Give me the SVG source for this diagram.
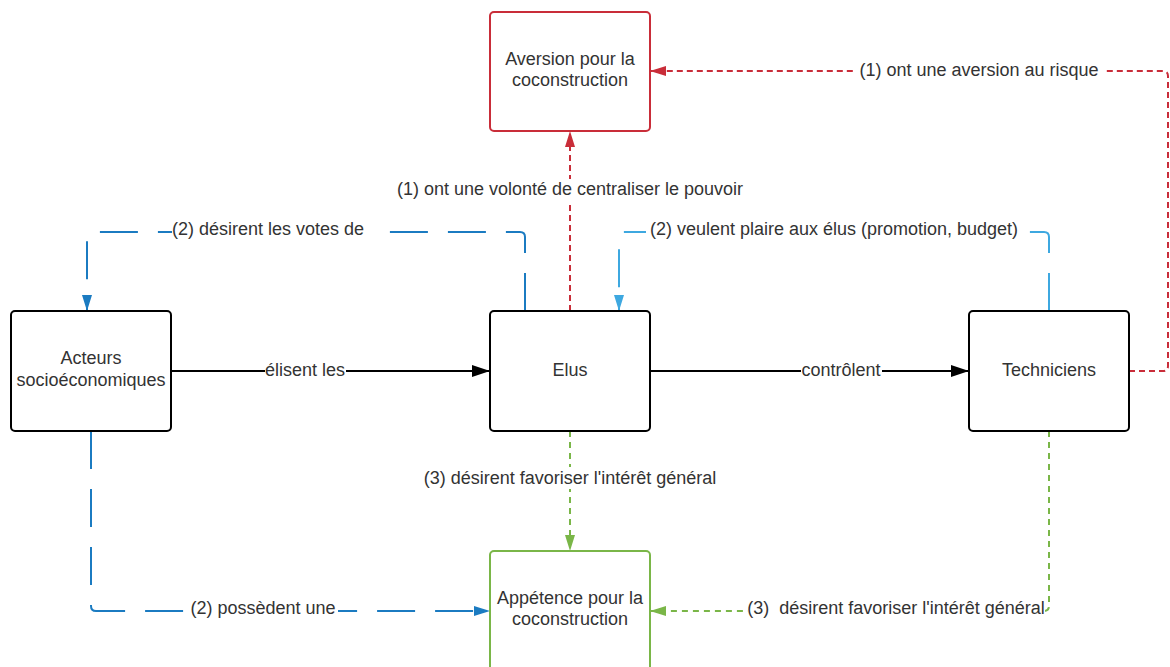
<svg xmlns="http://www.w3.org/2000/svg" width="1170" height="667" viewBox="0 0 1170 667">
<style>
.node{fill:#fff;stroke-width:2}
.nt{font-family:"Liberation Sans",Arial,sans-serif;font-size:18px;fill:#333;text-anchor:middle}
.lt{font-family:"Liberation Sans",Arial,sans-serif;font-size:18px;fill:#333;text-anchor:middle;white-space:pre}
.c{fill:none;stroke-width:2;stroke-linejoin:round}
.bg{fill:#fff}
.black{stroke:#000}
.red{stroke:#c92d39;stroke-dasharray:6 4}
.green{stroke:#7ab648;stroke-dasharray:6 5}
.blue{stroke:#1b7bc1;stroke-dasharray:38 20}
.lblue{stroke:#3ea8e0;stroke-dasharray:38 20}
</style>
<defs>
<marker id="aBlack" viewBox="0 0 18 12" refX="18" refY="6" markerWidth="18" markerHeight="12" markerUnits="userSpaceOnUse" orient="auto"><path d="M0,0 L18,6 L0,12 Z" fill="#000"/></marker>
<marker id="aRed" viewBox="0 0 16 10" refX="16" refY="5" markerWidth="16" markerHeight="10" markerUnits="userSpaceOnUse" orient="auto"><path d="M0,0 L16,5 L0,10 Z" fill="#c92d39"/></marker>
<marker id="aGreen" viewBox="0 0 16 10" refX="16" refY="5" markerWidth="16" markerHeight="10" markerUnits="userSpaceOnUse" orient="auto"><path d="M0,0 L16,5 L0,10 Z" fill="#7ab648"/></marker>
<marker id="aBlue" viewBox="0 0 16 10" refX="16" refY="5" markerWidth="16" markerHeight="10" markerUnits="userSpaceOnUse" orient="auto"><path d="M0,0 L16,5 L0,10 Z" fill="#1b7bc1"/></marker>
<marker id="aLBlue" viewBox="0 0 16 10" refX="16" refY="5" markerWidth="16" markerHeight="10" markerUnits="userSpaceOnUse" orient="auto"><path d="M0,0 L16,5 L0,10 Z" fill="#3ea8e0"/></marker>
</defs>
<rect width="1170" height="667" fill="#fff"/>
<g id="connectors">
<path class="c black" d="M171,371 H490" marker-end="url(#aBlack)"/>
<path class="c black" d="M650,371 H969" marker-end="url(#aBlack)"/>
<path class="c red" d="M570,311 V131" marker-end="url(#aRed)"/>
<path class="c red" d="M1129,371 H1163 Q1168,371 1168,366 V76 Q1168,71 1163,71 H650" marker-end="url(#aRed)"/>
<path class="c blue" d="M525,311 V237 Q525,232 520,232 H92 Q87,232 87,237 V311" marker-end="url(#aBlue)"/>
<path class="c lblue" d="M1049,311 V237 Q1049,232 1044,232 H624 Q619,232 619,237 V311" marker-end="url(#aLBlue)"/>
<path class="c blue" d="M91,431 V606 Q91,611 96,611 H490" marker-end="url(#aBlue)"/>
<path class="c green" d="M570,431 V551" marker-end="url(#aGreen)"/>
<path class="c green" d="M1049,431 V606 Q1049,611 1044,611 H650" marker-end="url(#aGreen)"/>
<rect class="bg" x="265" y="361" width="81" height="20"/>
<text class="lt" x="305" y="376">élisent les</text>
<rect class="bg" x="801" y="361" width="81" height="20"/>
<text class="lt" x="841" y="376">contrôlent</text>
<rect class="bg" x="396" y="179" width="348" height="22"/>
<text class="lt" x="570" y="195">(1) ont une volonté de centraliser le pouvoir</text>
<rect class="bg" x="855" y="60" width="248" height="22"/>
<text class="lt" x="979" y="76">(1) ont une aversion au risque</text>
<rect class="bg" x="172" y="220" width="204" height="22"/>
<text class="lt" x="268" y="235">(2) désirent les votes de</text>
<rect class="bg" x="646" y="220" width="375" height="22"/>
<text class="lt" x="834" y="235">(2) veulent plaire aux élus (promotion, budget)</text>
<rect class="bg" x="423" y="467" width="294" height="22"/>
<text class="lt" x="570" y="484">(3) désirent favoriser l'intérêt général</text>
<rect class="bg" x="189" y="600" width="149" height="22"/>
<text class="lt" x="263" y="614">(2) possèdent une</text>
<rect class="bg" x="748" y="600" width="295" height="22"/>
<text class="lt" x="896" y="614">(3)  désirent favoriser l'intérêt général</text>
</g>
<g id="aversion">
<rect class="node" x="490" y="12" width="160" height="119" rx="4" stroke="#c92d39"/>
<text class="nt" x="570" y="65">Aversion pour la</text>
<text class="nt" x="570" y="86">coconstruction</text>
</g>
<g id="acteurs">
<rect class="node" x="11" y="311" width="160" height="120" rx="4" stroke="#000"/>
<text class="nt" x="91" y="364">Acteurs</text>
<text class="nt" x="91" y="386">socioéconomiques</text>
</g>
<g id="elus">
<rect class="node" x="490" y="311" width="160" height="120" rx="4" stroke="#000"/>
<text class="nt" x="570" y="376">Elus</text>
</g>
<g id="techniciens">
<rect class="node" x="969" y="311" width="160" height="120" rx="4" stroke="#000"/>
<text class="nt" x="1049" y="376">Techniciens</text>
</g>
<g id="appetence">
<rect class="node" x="490" y="551" width="160" height="120" rx="4" stroke="#7ab648"/>
<text class="nt" x="570" y="604">Appétence pour la</text>
<text class="nt" x="570" y="625">coconstruction</text>
</g>
</svg>
